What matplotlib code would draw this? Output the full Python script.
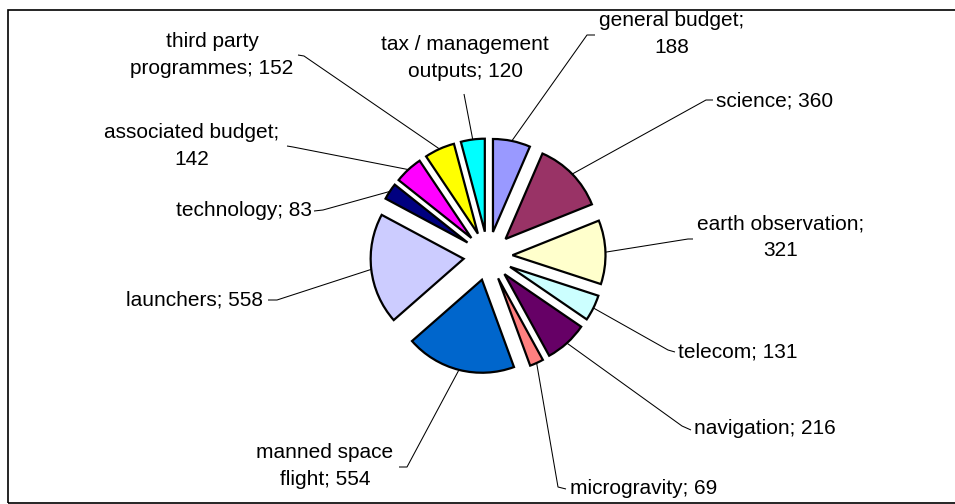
import matplotlib
matplotlib.use("Agg")
import matplotlib.pyplot as plt
import numpy as np
from matplotlib.patches import Rectangle

# budget split, clockwise from 12 o'clock
names = ["general budget", "science", "earth observation", "telecom",
         "navigation", "microgravity", "manned space\nflight", "launchers",
         "technology", "associated budget", "third party\nprogrammes",
         "tax / management\noutputs"]
values = [188, 360, 321, 131, 216, 69, 554, 558, 83, 142, 152, 120]
seps = ["\n", " ", "\n", " ", " ", " ", " ", " ", " ", "\n", " ", " "]
colors = ["#9999FF", "#993366", "#FFFFCC", "#CCFFFF", "#660066", "#FF8080",
          "#0066CC", "#CCCCFF", "#000080", "#FF00FF", "#FFFF00", "#00FFFF"]

W, H = 955, 504

# label placement in pixels (y down): text anchor, alignment, leader elbow, leader end
label_pos = [(672, 34, "center"), (716, 101, "left"), (781, 237, "center"),
             (678, 352, "left"), (694, 429, "left"), (570, 489, "left"),
             (325, 466, "center"), (263, 300, "right"), (312, 211, "right"),
             (192, 146, "center"), (212, 55, "center"), (465, 58, "center")]
leaders = [((587, 35), (595, 35)), ((706, 100), (713, 100)),
           ((688, 239), (693, 239)), ((668, 350), (675, 352)),
           ((682, 426), (691, 430)), ((558, 487), (566, 489)),
           ((407, 467), (399, 467)), ((277, 300), (268, 300)),
           ((323, 210), (314, 211)), ((293, 147), (287, 146)),
           ((304, 56), (298, 55)), ((464, 94), (464, 94))]

fig = plt.figure(figsize=(W / 100, H / 100), dpi=100)
ax = fig.add_axes([0, 0, 1, 1])

# pie drawn in pixel units, so explode is an absolute offset
radius = 93
wedges, _ = ax.pie(values, colors=colors, startangle=90, counterclock=False,
                   explode=[24.5] * len(values), radius=radius,
                   center=(488, H - 256),
                   wedgeprops=dict(edgecolor="black", linewidth=1.6))

ax.set_xlim(0, W)
ax.set_ylim(0, H)
ax.set_aspect("equal")
ax.axis("off")

# chart border (right side runs off the edge)
ax.add_patch(Rectangle((8, 1), W + 20, H - 11, fill=False, edgecolor="black",
                       linewidth=1.2, clip_on=True))

for w, name, val, sep, (tx, ty, ha), (elbow, end) in zip(
        wedges, names, values, seps, label_pos, leaders):
    mid = np.deg2rad((w.theta1 + w.theta2) / 2)
    sx = w.center[0] + w.r * np.cos(mid)
    sy = w.center[1] + w.r * np.sin(mid)
    ax.plot([sx, elbow[0], end[0]], [sy, H - elbow[1], H - end[1]],
            color="black", linewidth=0.75, solid_capstyle="butt")
    ax.text(tx, H - ty, f"{name};{sep}{val}", ha=ha, va="center",
            multialignment="center", fontsize=15, linespacing=1.5,
            family=["Liberation Sans", "DejaVu Sans"], color="black")

fig.savefig("out.png", dpi=100, facecolor="white")
